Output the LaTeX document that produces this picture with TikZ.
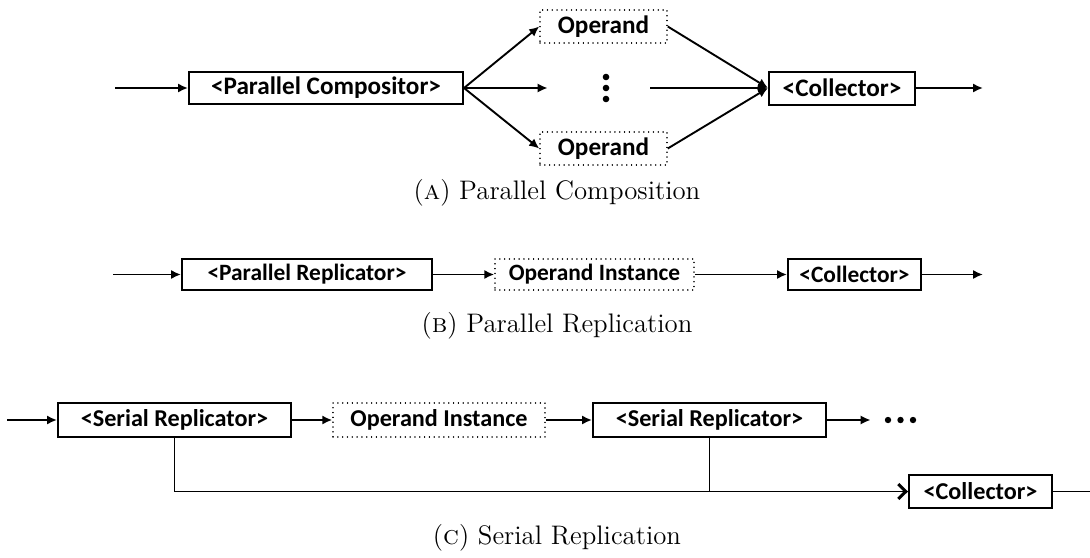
\documentclass[tikz,border=0pt]{standalone}
\usepackage{fontspec}
\newfontfamily\carlito{Carlito}
\usetikzlibrary{arrows.meta}
\tikzset{
  box/.style={draw, line width=1pt, inner sep=0pt},
  dbox/.style={draw, line width=0.75pt, dash pattern=on 0.01pt off 2.4pt, line cap=round, inner sep=0pt},
  fa/.style={font=\carlito\bfseries\fontsize{12.6}{14}\selectfont},
  fb/.style={font=\carlito\bfseries\fontsize{11.7}{13}\selectfont},
  fc/.style={font=\carlito\bfseries\fontsize{12.1}{14}\selectfont},
  captext/.style={font=\fontsize{13.4}{16}\selectfont},
  arr/.style={-{Latex[length=5pt,width=4.6pt]}, line width=0.95pt},
  ln/.style={line width=0.95pt},
  barb/.style={-{Straight Barb[length=3.8pt,width=7.5pt,line width=1.5pt]}, line width=0.95pt},
  ghost/.style={inner sep=0pt, minimum height=8pt},
}
\begin{document}
\begin{tikzpicture}[x=0.5pt,y=-0.5pt]
\useasboundingbox (0,0) rectangle (1090,557);
% ---------- (a) ----------
\coordinate (ainA) at (115,88);
\node[box,fa,minimum width=137pt,minimum height=16pt] (pc) at (326,88) {<Parallel Compositor>};
\node[dbox,fa,minimum width=63.5pt,minimum height=16.5pt] (opU) at (603.5,26.5) {Operand};
\node[dbox,fa,minimum width=63.5pt,minimum height=16.5pt] (opL) at (603.5,148.5) {Operand};
\node[ghost,minimum width=51pt] (vd) at (599,88) {};
\fill (606,77) circle (3.3) (606,88) circle (3.3) (606,99) circle (3.3);
\node[box,fa,minimum width=73pt,minimum height=16.5pt] (colA) at (842,88) {<Collector>};
\coordinate (aoutA) at (983,88);
\draw[arr] (ainA) -- (pc.west);
\draw[arr] (pc.east) -- (opU.west);
\draw[arr] (pc.east) -- (opL.west);
\draw[arr] (pc.east) -- (vd.west);
\draw[arr] (opU.east) -- (colA.west);
\draw[arr] (opL.east) -- (colA.west);
\draw[arr] (vd.east) -- (colA.west);
\draw[arr] (colA.east) -- (aoutA);
\node[captext] (capA) at (557,193) {(\textsc{a}) Parallel Composition};
% ---------- (b) ----------
\coordinate (binB) at (113,274.5);
\node[box,fb,minimum width=125pt,minimum height=15.5pt] (pr) at (307,274.5) {<Parallel Replicator>};
\node[dbox,fb,minimum width=99.5pt,minimum height=15.5pt] (oiB) at (594.5,274.5) {Operand Instance};
\node[box,fb,minimum width=66.5pt,minimum height=15.5pt] (colB) at (854.5,274.5) {<Collector>};
\coordinate (boutB) at (983,274.5);
\draw[arr] (binB) -- (pr.west);
\draw[arr] (pr.east) -- (oiB.west);
\draw[arr] (oiB.east) -- (colB.west);
\draw[arr] (colB.east) -- (boutB);
\node[captext] (capB) at (557,326) {(\textsc{b}) Parallel Replication};
% ---------- (c) ----------
\coordinate (cinC) at (7,420);
\node[box,fc,minimum width=116.5pt,minimum height=17pt] (sr1) at (174.5,420) {<Serial Replicator>};
\node[dbox,fc,minimum width=106pt,minimum height=17pt] (oiC) at (439,420) {Operand Instance};
\node[box,fc,minimum width=116.5pt,minimum height=17pt] (sr2) at (709.5,420) {<Serial Replicator>};
\node[ghost,minimum width=29.5pt] (more) at (900.5,420) {};
\fill (888,420) circle (3.2) (900.5,420) circle (3.2) (913,420) circle (3.2);
\node[box,fc,minimum width=71.5pt,minimum height=16.5pt] (colC) at (980.5,491.5) {<Collector>};
\coordinate (coutC) at (1090,491.5);
\draw[arr] (cinC) -- (sr1.west);
\draw[arr] (sr1.east) -- (oiC.west);
\draw[arr] (oiC.east) -- (sr2.west);
\draw[arr] (sr2.east) -- (more.west);
\draw[barb] (sr1.south) |- (colC.west);
\draw[ln] (sr2.south) -- (sr2.south |- colC.west);
\draw[ln] (colC.east) -- (coutC);
\node[captext] (capC) at (557,538) {(\textsc{c}) Serial Replication};
\end{tikzpicture}
\end{document}
